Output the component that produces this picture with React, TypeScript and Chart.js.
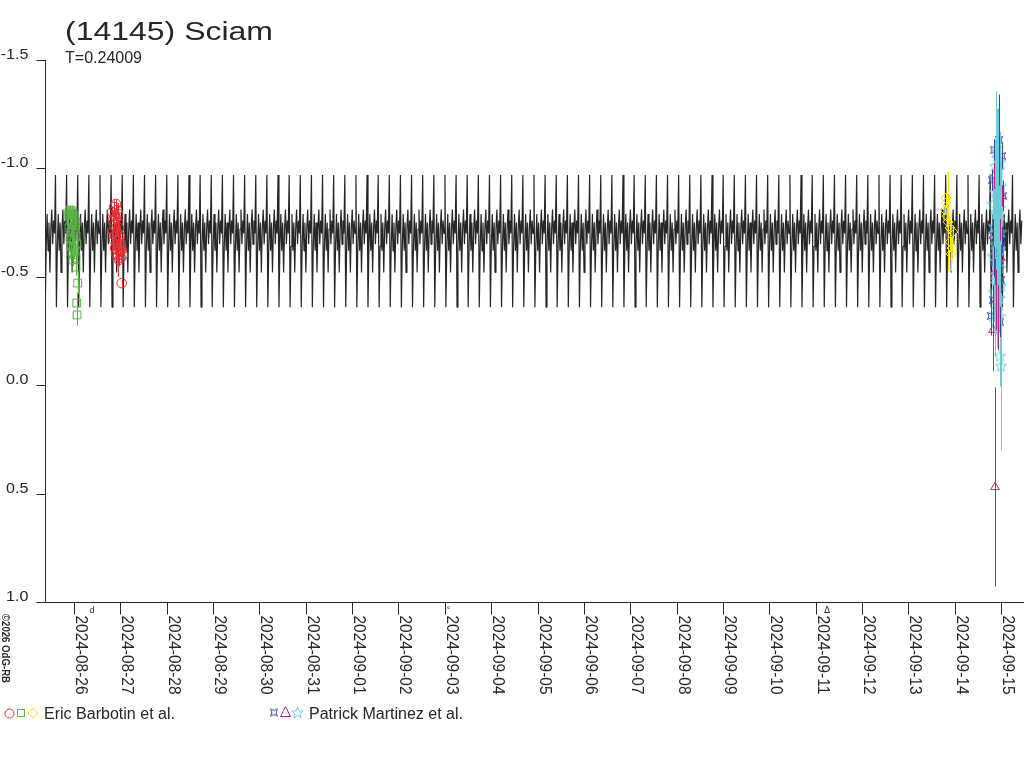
import { useEffect, useRef } from "react"
import { Chart, registerables, type Plugin } from "chart.js"

Chart.register(...registerables)

// time axis: days since 2024-08-26 00:00 UT
const X_MIN = -0.626
const X_MAX = 20.496
const Y_MIN = -1.5
const Y_MAX = 1.0

const title = "(14145) Sciam"
const periodLabel = "T=0.24009"
const PERIOD = 0.24009
const MODEL_START = -0.66
const MODEL_END = 20.45

// one period of the model curve (it repeats with T)
const periodShape = [-0.7, -0.97, -0.36, -0.64, -0.79, -0.62, -0.75, -0.52, -0.72, -0.81, -0.65, -0.76]

const dayLabels = [
  "2024-08-26", "2024-08-27", "2024-08-28", "2024-08-29", "2024-08-30", "2024-08-31",
  "2024-09-01", "2024-09-02", "2024-09-03", "2024-09-04", "2024-09-05", "2024-09-06",
  "2024-09-07", "2024-09-08", "2024-09-09", "2024-09-10", "2024-09-11", "2024-09-12",
  "2024-09-13", "2024-09-14", "2024-09-15",
]
const yTicks = [-1.5, -1.0, -0.5, 0.0, 0.5, 1.0]
const yTickLabels = ["-1.5", "-1.0", "-0.5", "0.0", "0.5", "1.0"]
const moonTimes = [0.39, 8.08, 16.25]
const moonGlyphs = ["d", "°", "ᐃ"]

// Eric Barbotin et al.
const redT = [0.82, 0.863, 0.906, 0.928, 0.885, 0.841, 0.906, 0.949, 0.863, 0.906, 0.949, 0.841, 0.885, 0.928, 0.971, 0.863, 0.906, 0.949, 0.992, 0.885, 0.928, 0.971, 1.014, 0.906, 0.949, 0.992, 1.036, 0.971, 1.014, 1.057, 1.029]
const redM = [-0.799, -0.822, -0.836, -0.808, -0.785, -0.762, -0.771, -0.79, -0.739, -0.725, -0.753, -0.707, -0.688, -0.707, -0.725, -0.67, -0.651, -0.67, -0.688, -0.633, -0.624, -0.642, -0.651, -0.605, -0.596, -0.614, -0.624, -0.578, -0.587, -0.601, -0.471]
const redE = [0.02, 0.03, 0.02, 0.02, 0.02, 0.02, 0.02, 0.02, 0.02, 0.02, 0.02, 0.02, 0.02, 0.02, 0.02, 0.02, 0.02, 0.17, 0.02, 0.02, 0.02, 0.02, 0.02, 0.02, 0.02, 0.02, 0.02, 0.03, 0.02, 0.02, 0.02]

const greenT = [-0.129, -0.108, -0.086, -0.065, -0.043, -0.022, 0.0, -0.086, -0.043, 0.0, -0.108, -0.065, -0.022, 0.022, 0.043, -0.086, -0.043, 0.0, 0.043, -0.065, -0.022, 0.022, 0.065, -0.043, 0.0, 0.043, -0.022, 0.043, 0.08, 0.058, 0.065]
const greenM = [-0.785, -0.799, -0.808, -0.79, -0.804, -0.794, -0.78, -0.762, -0.753, -0.739, -0.725, -0.707, -0.716, -0.734, -0.753, -0.679, -0.67, -0.661, -0.688, -0.642, -0.633, -0.624, -0.651, -0.614, -0.601, -0.587, -0.578, -0.545, -0.471, -0.379, -0.324]
const greenE = [0.02, 0.02, 0.02, 0.02, 0.02, 0.02, 0.02, 0.02, 0.02, 0.02, 0.02, 0.02, 0.02, 0.02, 0.02, 0.02, 0.02, 0.02, 0.02, 0.02, 0.02, 0.02, 0.02, 0.02, 0.02, 0.02, 0.03, 0.04, 0.05, 0.05, 0.05]

const yellowT = [18.813, 18.813, 18.792, 18.835, 18.857, 18.9, 18.965, 18.9, 18.943, 18.921]
const yellowM = [-0.863, -0.84, -0.808, -0.78, -0.753, -0.725, -0.707, -0.661, -0.633, -0.605]
const yellowE = [0.02, 0.02, 0.02, 0.04, 0.23, 0.04, 0.03, 0.04, 0.05, 0.08]

// Patrick Martinez et al.
const navyT = [19.957, 19.849, 20.022, 19.806, 20.043, 19.827, 20.022, 19.849, 20.0, 19.827, 19.784, 19.978]
const navyM = [-1.131, -1.085, -1.057, -0.946, -0.873, -0.716, -0.67, -0.568, -0.485, -0.393, -0.319, -0.292]
const navyE = [0.21, 0.05, 0.06, 0.05, 0.07, 0.05, 0.06, 0.07, 0.06, 0.07, 0.09, 0.07]

const magentaT = [19.871, 19.849, 20.022, 19.827, 20.0, 19.978, 19.892, 19.827, 19.935, 19.871]
const magentaM = [0.47, -0.965, -0.873, -0.688, -0.587, -0.716, -0.393, -0.255, -0.31, -0.522]
const magentaE = [0.46, 0.06, 0.05, 0.05, 0.06, 0.05, 0.14, 0.19, 0.15, 0.06]

const cyanT = [19.914, 19.892, 19.935, 19.978, 19.871, 19.957, 19.849, 19.914, 20.0, 19.871, 19.935, 19.827, 19.978, 19.892, 19.957, 19.849, 20.0, 19.914, 19.871, 19.957, 19.827, 19.935, 19.978, 19.871, 19.914, 20.0, 19.849, 19.957, 19.892, 19.935, 19.978, 19.871, 19.978, 20.0, 19.892, 19.957, 19.914, 19.849, 19.978, 19.935, 19.892, 19.957, 19.871, 19.914]
const cyanM = [-1.094, -1.076, -1.048, -1.03, -1.011, -0.993, -0.965, -0.937, -0.919, -0.891, -0.863, -0.836, -0.817, -0.79, -0.762, -0.734, -0.707, -0.679, -0.651, -0.624, -0.596, -0.568, -0.541, -0.513, -0.485, -0.458, -0.43, -0.402, -0.375, -0.347, -0.319, -0.292, -0.135, -0.089, -0.95, -0.88, -0.8, -0.7, -0.63, -0.55, -0.47, -0.4, -0.33, -0.27]
const cyanE = [0.18, 0.28, 0.23, 0.14, 0.12, 0.21, 0.09, 0.16, 0.12, 0.14, 0.18, 0.09, 0.14, 0.16, 0.12, 0.14, 0.09, 0.16, 0.12, 0.14, 0.09, 0.16, 0.12, 0.14, 0.18, 0.12, 0.14, 0.16, 0.14, 0.18, 0.14, 0.16, 0.14, 0.39, 0.12, 0.1, 0.12, 0.1, 0.12, 0.1, 0.12, 0.1, 0.12, 0.1]

const RED = "#ea2c34"
const GREEN = "#58b443"
const YELLOW = "#f5e600"
const NAVY = "#3a46a0"
const MAGENTA = "#b8287c"
const CYAN = "#6ccbdb"
const INK = "#262626"
const FONT = "'Liberation Sans', Arial, sans-serif"

const toPoints = (ts: number[], ms: number[]) => ts.map((t, i) => ({ x: t, y: ms[i] }))

function makeStar(color: string) {
  const c = document.createElement("canvas")
  c.width = 13
  c.height = 13
  const g = c.getContext("2d")!
  g.strokeStyle = color
  g.lineWidth = 1
  g.beginPath()
  for (let k = 0; k < 10; k++) {
    const r = k % 2 ? 2.5 : 6
    const a = -Math.PI / 2 + (k * Math.PI) / 5
    const px = 6.5 + r * Math.cos(a)
    const py = 7 + r * Math.sin(a)
    if (k) g.lineTo(px, py)
    else g.moveTo(px, py)
  }
  g.closePath()
  g.stroke()
  return c
}

function makeCurrency(color: string) {
  const c = document.createElement("canvas")
  c.width = 10
  c.height = 10
  const g = c.getContext("2d")!
  g.strokeStyle = color
  g.lineWidth = 1
  g.beginPath()
  g.moveTo(1.5, 1.5)
  g.lineTo(5, 3)
  g.lineTo(8.5, 1.5)
  g.lineTo(7, 5)
  g.lineTo(8.5, 8.5)
  g.lineTo(5, 7)
  g.lineTo(1.5, 8.5)
  g.lineTo(3, 5)
  g.closePath()
  g.stroke()
  return c
}

// draw text squeezed/stretched to a given width
function fitText(ctx: CanvasRenderingContext2D, text: string, x: number, y: number, font: string, width: number) {
  ctx.font = font
  const w = ctx.measureText(text).width
  ctx.save()
  ctx.translate(x, y)
  ctx.scale(width / w, 1)
  ctx.textAlign = "left"
  ctx.textBaseline = "alphabetic"
  ctx.fillText(text, 0, 0)
  ctx.restore()
}

const errorBars: Plugin = {
  id: "errorBars",
  afterDatasetsDraw(chart) {
    const { ctx, chartArea, scales } = chart
    ctx.save()
    ctx.beginPath()
    ctx.rect(chartArea.left, chartArea.top, chartArea.right - chartArea.left, chartArea.bottom - chartArea.top)
    ctx.clip()
    ctx.lineWidth = 1
    chart.data.datasets.forEach((ds: any) => {
      if (!ds.errs) return
      ctx.strokeStyle = ds.borderColor
      ds.data.forEach((p: any, i: number) => {
        const x = Math.round(scales.x.getPixelForValue(p.x)) + 0.5
        ctx.beginPath()
        ctx.moveTo(x, scales.y.getPixelForValue(p.y - ds.errs[i]))
        ctx.lineTo(x, scales.y.getPixelForValue(p.y + ds.errs[i]))
        ctx.stroke()
      })
    })
    ctx.restore()
  },
}

const frame: Plugin = {
  id: "frame",
  afterDraw(chart) {
    const { ctx, chartArea, scales } = chart
    const left = Math.round(chartArea.left) + 0.5
    const bottom = Math.round(chartArea.bottom) + 0.5
    ctx.save()
    ctx.strokeStyle = INK
    ctx.fillStyle = INK
    ctx.lineWidth = 1

    // axes
    ctx.beginPath()
    ctx.moveTo(left, Math.round(chartArea.top))
    ctx.lineTo(left, bottom)
    ctx.lineTo(chartArea.right, bottom)
    ctx.stroke()

    // y ticks and labels
    yTicks.forEach((v, i) => {
      const y = Math.round(scales.y.getPixelForValue(v)) + 0.5
      ctx.beginPath()
      ctx.moveTo(left - 9, y)
      ctx.lineTo(left, y)
      ctx.stroke()
      ctx.font = `14px ${FONT}`
      const w = ctx.measureText(yTickLabels[i]).width * 1.15
      fitText(ctx, yTickLabels[i], 28.5 - w, y - 2, `14px ${FONT}`, w)
    })

    // x ticks and rotated date labels
    dayLabels.forEach((lab, i) => {
      const x = Math.round(scales.x.getPixelForValue(i)) + 0.5
      ctx.beginPath()
      ctx.moveTo(x, bottom)
      ctx.lineTo(x, bottom + 12)
      ctx.stroke()
      ctx.save()
      ctx.translate(x + 1, bottom + 13)
      ctx.rotate(Math.PI / 2)
      fitText(ctx, lab, 0, 0, `16px ${FONT}`, 79)
      ctx.restore()
    })

    // moon phase marks
    moonTimes.forEach((t, i) => {
      const x = scales.x.getPixelForValue(t)
      ctx.font = `9px ${FONT}`
      ctx.textAlign = "center"
      ctx.fillText(moonGlyphs[i], x, bottom + 10)
    })

    // title
    fitText(ctx, title, 65, 39.5, `26px ${FONT}`, 208)
    fitText(ctx, periodLabel, 65, 63, `16px ${FONT}`, 77)

    // copyright
    ctx.save()
    ctx.translate(2, 614)
    ctx.rotate(Math.PI / 2)
    fitText(ctx, "©2026 OdG-RB", 0, 0, `bold 10px ${FONT}`, 69)
    ctx.restore()

    // legend
    ctx.lineWidth = 1
    ctx.strokeStyle = RED
    ctx.beginPath()
    ctx.arc(9.5, 713.5, 4.5, 0, Math.PI * 2)
    ctx.stroke()
    ctx.strokeStyle = GREEN
    ctx.strokeRect(17.5, 709.5, 7, 7)
    ctx.strokeStyle = YELLOW
    ctx.beginPath()
    ctx.moveTo(33, 708)
    ctx.lineTo(38, 713)
    ctx.lineTo(33, 718)
    ctx.lineTo(28, 713)
    ctx.closePath()
    ctx.stroke()
    ctx.fillStyle = INK
    fitText(ctx, "Eric Barbotin et al.", 44, 719, `16px ${FONT}`, 131)

    const ds = chart.data.datasets as any[]
    const navyImg = ds.find((d) => d.label === "navy")?.pointStyle
    const cyanImg = ds.find((d) => d.label === "cyan")?.pointStyle
    if (navyImg) ctx.drawImage(navyImg, 269, 707.5)
    ctx.strokeStyle = MAGENTA
    ctx.beginPath()
    ctx.moveTo(285.5, 706.5)
    ctx.lineTo(290.5, 716.5)
    ctx.lineTo(280.5, 716.5)
    ctx.closePath()
    ctx.stroke()
    if (cyanImg) ctx.drawImage(cyanImg, 291, 706)
    ctx.fillStyle = INK
    fitText(ctx, "Patrick Martinez et al.", 309, 719, `16px ${FONT}`, 154)
    ctx.restore()
  },
}

export default function App() {
  const canvasRef = useRef<HTMLCanvasElement>(null)
  const chartRef = useRef<Chart | null>(null)

  useEffect(() => {
    if (!canvasRef.current) return
    if (chartRef.current) chartRef.current.destroy()

    // model lightcurve: the read period shape laid out every T days
    const model: { x: number; y: number }[] = []
    for (let c = MODEL_START; c < MODEL_END; c += PERIOD) {
      periodShape.forEach((m, i) => {
        const x = c + (i / periodShape.length) * PERIOD
        if (x <= MODEL_END) model.push({ x, y: m })
      })
    }

    const obs = (label: string, color: string, style: any, radius: number, ts: number[], ms: number[], es: number[]) => ({
      type: "scatter" as const,
      label,
      data: toPoints(ts, ms),
      errs: es,
      borderColor: color,
      backgroundColor: "rgba(0,0,0,0)",
      pointStyle: style,
      pointRadius: radius,
      pointBorderWidth: 1,
      order: 0,
    })

    chartRef.current = new Chart(canvasRef.current, {
      type: "scatter",
      data: {
        datasets: [
          obs("cyan", CYAN, makeStar(CYAN), 5, cyanT, cyanM, cyanE),
          obs("magenta", MAGENTA, "triangle", 5, magentaT, magentaM, magentaE),
          obs("navy", NAVY, makeCurrency(NAVY), 5, navyT, navyM, navyE),
          obs("yellow", YELLOW, "rectRot", 5, yellowT, yellowM, yellowE),
          obs("red", RED, "circle", 4.8, redT, redM, redE),
          obs("green", GREEN, "rect", 5.5, greenT, greenM, greenE),
          {
            type: "line" as const,
            label: "model",
            data: model,
            borderColor: INK,
            borderWidth: 1.2,
            borderJoinStyle: "bevel",
            pointRadius: 0,
            tension: 0,
            order: 1,
          } as any,
        ],
      },
      options: {
        animation: false,
        responsive: false,
        events: [],
        layout: { autoPadding: false, padding: { left: 45, top: 60, right: 0, bottom: 166 } },
        plugins: { legend: { display: false }, tooltip: { enabled: false } },
        scales: {
          x: { type: "linear", min: X_MIN, max: X_MAX, display: false },
          y: { type: "linear", min: Y_MIN, max: Y_MAX, reverse: true, display: false },
        },
      },
      plugins: [errorBars, frame],
    })

    return () => {
      if (chartRef.current) {
        chartRef.current.destroy()
        chartRef.current = null
      }
    }
  }, [])

  return (
    <div style={{ position: "absolute", left: 0, top: 0, width: 1024, height: 768, background: "#fff" }}>
      <canvas ref={canvasRef} width={1024} height={768} style={{ display: "block" }}></canvas>
    </div>
  )
}
